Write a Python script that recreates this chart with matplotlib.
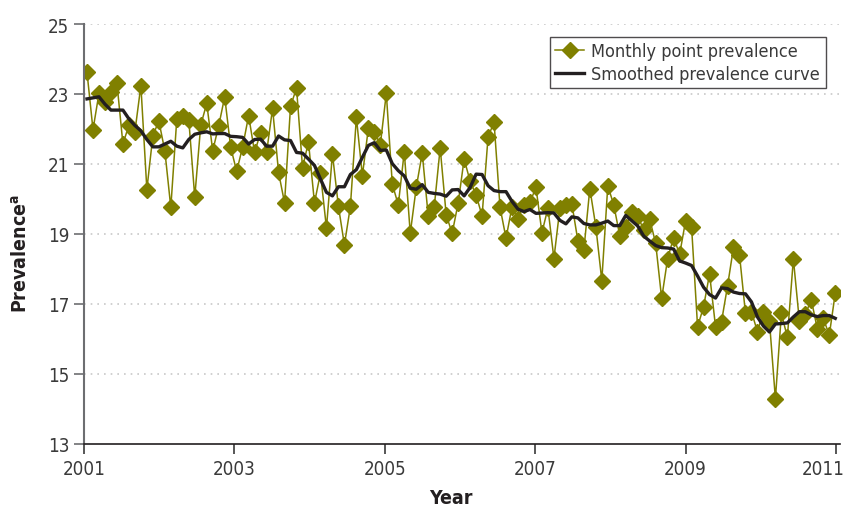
import numpy as np
import matplotlib
matplotlib.use('Agg')
import matplotlib.pyplot as plt
from matplotlib.transforms import ScaledTranslation

plt.rcParams['font.family'] = ['DejaVu Sans']
plt.rcParams['font.stretch'] = 'condensed'

# Monthly point prevalence (2001 - 2011)
point_prevalence = [
    23.62, 21.98, 23.02, 22.76, 23.05, 23.31, 21.57, 22.11, 21.92, 23.24,
    20.27, 21.81, 22.23, 21.38, 19.76, 22.29, 22.38, 22.27, 20.05, 22.11,
    22.73, 21.38, 22.09, 22.92, 21.48, 20.79, 21.49, 22.38, 21.33, 21.90,
    21.33, 22.59, 20.76, 19.89, 22.65, 23.17, 20.90, 21.62, 19.89, 20.74,
    19.17, 21.29, 19.79, 18.69, 19.79, 22.33, 20.67, 22.02, 21.92, 21.55,
    23.02, 20.43, 19.83, 21.35, 19.02, 20.33, 21.31, 19.52, 19.76, 21.46,
    19.55, 19.02, 19.88, 21.14, 20.51, 20.11, 19.52, 21.78, 22.19, 19.76,
    18.88, 19.78, 19.43, 19.84, 19.91, 20.33, 19.04, 19.74, 18.30, 19.74,
    19.83, 19.86, 18.81, 18.54, 20.30, 19.21, 17.67, 20.38, 19.83, 18.95,
    19.19, 19.64, 19.51, 19.12, 19.43, 18.73, 17.16, 18.30, 18.90, 18.42,
    19.38, 19.19, 16.35, 16.92, 17.86, 16.35, 16.50, 17.51, 18.62, 18.41,
    16.73, 16.78, 16.21, 16.78, 16.52, 14.29, 16.73, 16.05, 18.29, 16.52,
    16.71, 17.12, 16.29, 16.59, 16.11, 17.31,
]

# Smoothed prevalence curve at the same time points
smoothed_prevalence = [
    22.86, 22.89, 22.92, 22.71, 22.54, 22.54, 22.54, 22.29, 22.10, 21.95,
    21.70, 21.49, 21.49, 21.57, 21.65, 21.51, 21.46, 21.70, 21.85, 21.89,
    21.92, 21.86, 21.87, 21.87, 21.79, 21.78, 21.76, 21.57, 21.70, 21.71,
    21.51, 21.51, 21.80, 21.69, 21.67, 21.33, 21.31, 21.14, 20.96, 20.57,
    20.19, 20.09, 20.35, 20.35, 20.70, 20.84, 21.19, 21.53, 21.61, 21.39,
    21.40, 21.01, 20.81, 20.66, 20.31, 20.28, 20.41, 20.19, 20.16, 20.14,
    20.08, 20.26, 20.27, 20.09, 20.33, 20.71, 20.70, 20.38, 20.24, 20.21,
    20.21, 19.93, 19.71, 19.64, 19.70, 19.59, 19.60, 19.61, 19.60, 19.39,
    19.29, 19.49, 19.46, 19.30, 19.26, 19.26, 19.31, 19.37, 19.24, 19.24,
    19.53, 19.38, 19.23, 18.94, 18.80, 18.67, 18.61, 18.60, 18.57, 18.23,
    18.17, 18.10, 17.80, 17.48, 17.27, 17.17, 17.46, 17.44, 17.34, 17.30,
    17.29, 17.06, 16.63, 16.37, 16.20, 16.43, 16.44, 16.46, 16.63, 16.78,
    16.78, 16.69, 16.64, 16.67, 16.67, 16.59,
]

first_obs = 2001.04
last_obs = 2010.99
year_ticks = [2001, 2003, 2005, 2007, 2009, 2011]
prev_ticks = [13, 15, 17, 19, 21, 23, 25]

years = np.linspace(first_obs, last_obs, len(point_prevalence))

fig = plt.figure(figsize=(8.45, 5.1), dpi=100)
ax = fig.add_axes([84 / 845, 65 / 510, 756 / 845, 420 / 510])

# Dotted horizontal guides
for t in prev_ticks[1:]:
    ax.axhline(t, color='#c8c8c8', linestyle=(0, (1, 3)), linewidth=1.2, zorder=0)

ax.plot(years, point_prevalence, color='#808000', linewidth=1.1,
        marker='D', markersize=8, markerfacecolor='#808000',
        markeredgecolor='#808000', label='Monthly point prevalence', zorder=2)
ax.plot(years, smoothed_prevalence, color='#231f20', linewidth=2.4,
        label='Smoothed prevalence curve', zorder=3)

ax.set_xlim(2001, 2011.053)
ax.set_ylim(13, 25)
ax.set_xticks(year_ticks)
ax.set_yticks(prev_ticks)
ax.tick_params(axis='both', labelsize=13.5, colors='#3a3a3a', length=7, width=1.2)
ax.tick_params(axis='y', colors='#6d6e71', labelcolor='#3a3a3a')

# last year label sits against the figure edge, nudge it left
last_label = ax.get_xticklabels()[-1]
last_label.set_transform(last_label.get_transform()
                         + ScaledTranslation(-13 / 100, 0, fig.dpi_scale_trans))

for side in ['top', 'right']:
    ax.spines[side].set_visible(False)
ax.spines['left'].set_color('#6d6e71')
ax.spines['left'].set_linewidth(1.5)
ax.spines['bottom'].set_color('#231f20')
ax.spines['bottom'].set_linewidth(1.2)

ax.set_xlabel('Year', fontsize=14, fontweight='bold', color='#231f20')
ax.set_ylabel('Prevalence$^{\\mathregular{a}}$', fontsize=14, fontweight='bold',
              color='#231f20')
ax.xaxis.set_label_coords(0.485, -0.105)
ax.yaxis.set_label_coords(-0.07, 0.457)

leg = ax.legend(loc='upper right', bbox_to_anchor=(0.981, 0.969), fontsize=13,
                frameon=True, fancybox=False, edgecolor='#231f20',
                handlelength=1.6, handletextpad=0.4, borderpad=0.3,
                labelspacing=0.25, borderaxespad=0)
leg.get_frame().set_linewidth(1.0)
for text in leg.get_texts():
    text.set_color('#3a3a3a')

plt.savefig('out.png', dpi=100)
